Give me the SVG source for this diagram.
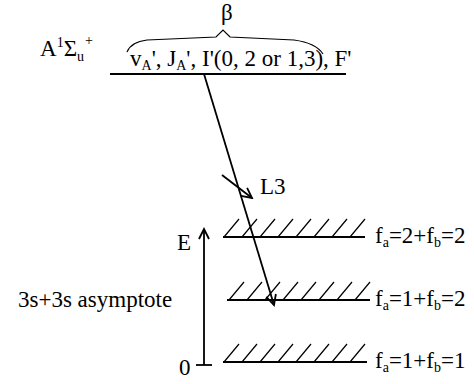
<svg xmlns="http://www.w3.org/2000/svg" width="474" height="384" viewBox="0 0 474 384" font-family="'Liberation Serif', serif" font-size="23">
<defs>
<marker id="arr" markerWidth="14" markerHeight="14" refX="12" refY="7" orient="auto" markerUnits="userSpaceOnUse">
<path d="M2,2 L12,7 L2,12" fill="none" stroke="#000" stroke-width="1.8"/>
</marker>
</defs>
<style>
text{font-family:"Liberation Serif",serif;font-size:23px;fill:#000}
.ln{stroke:#000;stroke-width:1.8;fill:none}
.th{stroke:#000;stroke-width:1.2;fill:none}
.sub{font-size:14px}
</style>
<rect width="474" height="384" fill="#fff"/>
<g id="state-A">
<text x="40" y="56">A<tspan class="sub" dy="-9">1</tspan><tspan dy="9">Σ</tspan><tspan class="sub" dy="5">u</tspan><tspan class="sub" dx="1" dy="-16">+</tspan></text>
<text x="221" y="20">β</text>
<path class="th" d="M127,52 Q131,42 147,40 L216,37 L223,30 L230,37 L294,40 Q316,43 323,54"/>
<text x="130" y="66">v<tspan class="sub" dy="4">A</tspan><tspan dy="-4">', J</tspan><tspan class="sub" dy="4">A</tspan><tspan dy="-4">', I'(0, 2 or 1,3), F'</tspan></text>
<path class="ln" d="M110,74 H346"/>
</g>
<g id="level-22">
<path class="ln" d="M223,237 H365"/>
<path class="th" d="M224,237 l15,-18 M242,237 l15,-18 M260,237 l15,-18 M278,237 l15,-18 M296,237 l15,-18 M314,237 l15,-18 M332,237 l15,-18 M350,237 l15,-18"/>
<text x="375" y="243">f<tspan class="sub" dy="4">a</tspan><tspan dy="-4">=2+f</tspan><tspan class="sub" dy="4">b</tspan><tspan dy="-4">=2</tspan></text>
</g>
<g id="level-12">
<path class="ln" d="M227,300 H370"/>
<path class="th" d="M229,300 l15,-18 M247,300 l15,-18 M265,300 l15,-18 M283,300 l15,-18 M301,300 l15,-18 M319,300 l15,-18 M337,300 l15,-18 M355,300 l15,-18"/>
<text x="375" y="306">f<tspan class="sub" dy="4">a</tspan><tspan dy="-4">=1+f</tspan><tspan class="sub" dy="4">b</tspan><tspan dy="-4">=2</tspan></text>
</g>
<g id="level-11">
<path class="ln" d="M223,362 H367"/>
<path class="th" d="M224,362 l15,-18 M242,362 l15,-18 M260,362 l15,-18 M278,362 l15,-18 M296,362 l15,-18 M314,362 l15,-18 M332,362 l15,-18 M350,362 l15,-18"/>
<text x="375" y="368">f<tspan class="sub" dy="4">a</tspan><tspan dy="-4">=1+f</tspan><tspan class="sub" dy="4">b</tspan><tspan dy="-4">=1</tspan></text>
</g>
<g id="axis">
<text x="177" y="250">E</text>
<text x="18" y="307">3s+3s asymptote</text>
<text x="179" y="375">0</text>
</g>
<g id="connectors">
<path class="ln" d="M204,365 V229" marker-end="url(#arr)"/>
<path class="ln" d="M196,365 H212"/>
<path class="ln" d="M204,74 L274,305" marker-end="url(#arr)"/>
<path class="ln" d="M222,175 L252,198" marker-end="url(#arr)"/>
<text x="260" y="194">L3</text>
</g>
</svg>
